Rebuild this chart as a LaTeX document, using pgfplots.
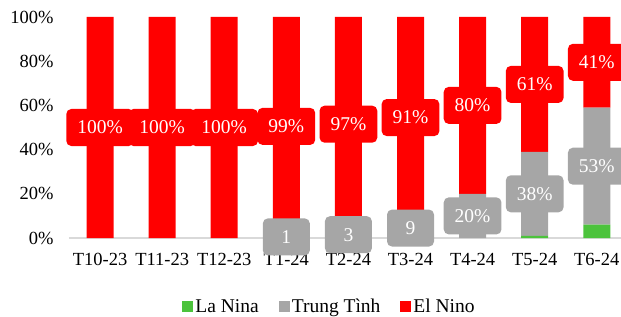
\documentclass[border=0pt]{standalone}
\usepackage{pgfplots}
\pgfplotsset{compat=1.18}
\usepackage{pgfplotstable}
\usepackage{fontspec}
\setmainfont{Liberation Serif}
\definecolor{cRed}{HTML}{FF0000}
\definecolor{cGray}{HTML}{A6A6A6}
\definecolor{cGreen}{HTML}{4CC33C}
\definecolor{cAxis}{HTML}{D9D9D9}

\pgfplotstableread{
x lanina trung elnino
0 0 0 100
1 0 0 100
2 0 0 100
3 0 1 99
4 0 3 97
5 0 9 91
6 0 20 80
7 1 38 61
8 6 53 41
}\datatab

\begin{document}
\begin{tikzpicture}
\pgfplotsset{base/.style={scale only axis, width=552pt, height=221pt,
  xmin=-0.5, xmax=8.39, ymin=0, ymax=100, at={(0pt,0pt)}, anchor=south west}}
\path[use as bounding box] (-69pt,-78pt) rectangle (552pt,238pt);
\begin{axis}[base, ybar stacked, bar width=27pt,
  axis x line*=bottom, axis y line*=left,
  x axis line style={draw=cAxis, line width=1.2pt, -},
  y axis line style={draw=none},
  major tick length=0pt,
  xtick={0,...,8},
  xticklabels={T10-23,T11-23,T12-23,T1-24,T2-24,T3-24,T4-24,T5-24,T6-24},
  ytick={0,20,40,60,80,100},
  yticklabels={0\%,20\%,40\%,60\%,80\%,100\%},
  ticklabel style={font=\fontsize{18.5}{20}\selectfont},
  y tick label style={xshift=-12pt},
  x tick label style={yshift=-12pt},
  legend style={at={(0.472,-0.31)}, anchor=center, draw=none, fill=none,
    legend columns=3, font=\fontsize{19.5}{20}\selectfont,
    /tikz/every even column/.append style={column sep=18pt}},
  legend image code/.code={\fill[#1] (0pt,-5.5pt) rectangle (11pt,5.5pt);},
]
\addplot[fill=cGreen, draw=none] table[x=x, y=lanina]{\datatab};
\addlegendentry{La Nina}
\addplot[fill=cGray, draw=none] table[x=x, y=trung]{\datatab};
\addlegendentry{Trung Tình}
\addplot[fill=cRed, draw=none] table[x=x, y=elnino]{\datatab};
\addlegendentry{El Nino}
\end{axis}
\begin{axis}[base, hide axis,
  every node near coord/.append style={anchor=center, text=white,
    rounded corners=5pt, inner xsep=11pt, minimum width=47pt, minimum height=37pt,
    font=\fontsize{19.5}{20}\selectfont}]
\addplot[draw=none, nodes near coords, point meta=explicit symbolic,
  every node near coord/.append style={fill=cGray}] coordinates {
  (3,0.5) [1] (4,1.5) [3] (5,4.5) [9] (6,10) [20\%] (7,20) [38\%] (8,32.5) [53\%]};
\addplot[draw=none, nodes near coords, point meta=explicit symbolic,
  every node near coord/.append style={fill=cRed}] coordinates {
  (0,50) [100\%] (1,50) [100\%] (2,50) [100\%] (3,50.5) [99\%] (4,51.5) [97\%]
  (5,54.5) [91\%] (6,60) [80\%] (7,69.5) [61\%] (8,79.5) [41\%]};
\end{axis}
\end{tikzpicture}
\end{document}
